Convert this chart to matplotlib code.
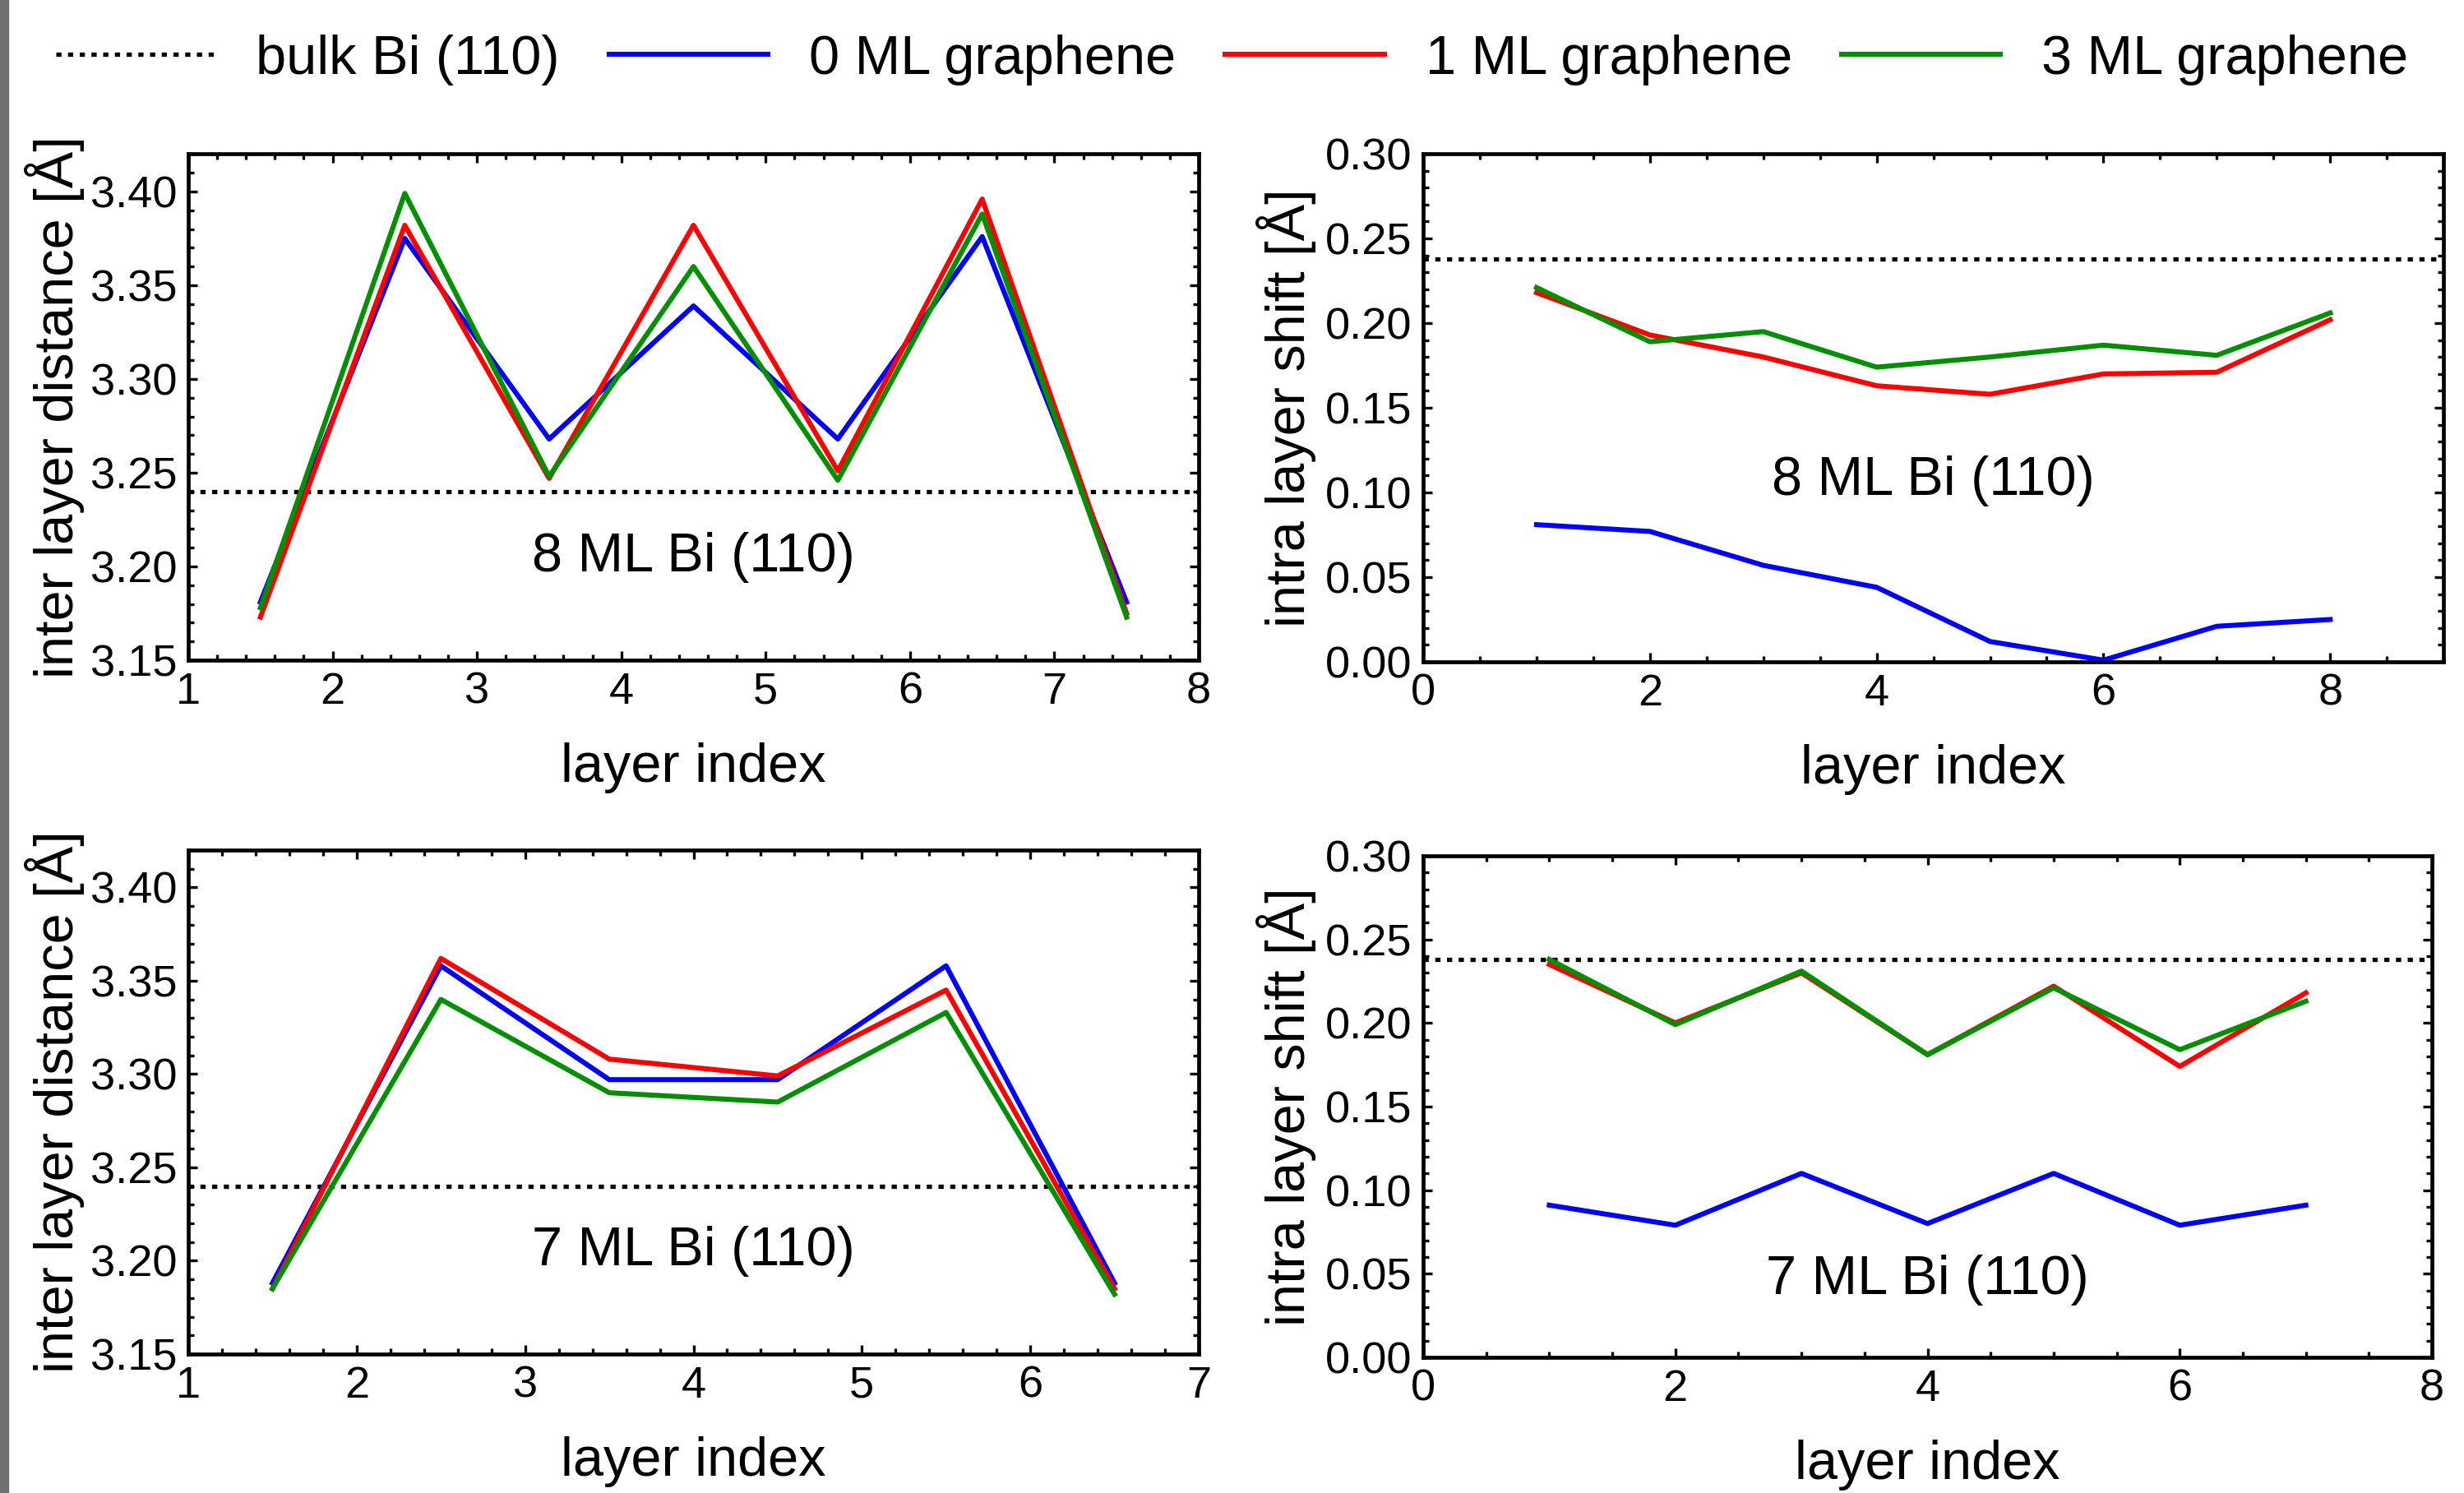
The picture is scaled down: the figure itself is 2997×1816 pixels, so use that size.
import matplotlib
matplotlib.use('Agg')
import matplotlib.pyplot as plt
from matplotlib.ticker import MultipleLocator
from matplotlib.patches import Rectangle

plt.rcParams['font.family'] = ['Liberation Sans', 'DejaVu Sans']

# 8 ML Bi(110): inter layer distance, x at layer midpoints
x_inter8 = [1.5, 2.5, 3.5, 4.5, 5.5, 6.5, 7.5]
inter8_g0 = [3.181, 3.375, 3.268, 3.339, 3.268, 3.376, 3.181]
inter8_g1 = [3.173, 3.382, 3.247, 3.382, 3.251, 3.396, 3.175]
inter8_g3 = [3.178, 3.399, 3.248, 3.360, 3.246, 3.388, 3.173]

# 8 ML Bi(110): intra layer shift
x_intra8 = [1, 2, 3, 4, 5, 6, 7, 8]
intra8_g0 = [0.081, 0.077, 0.057, 0.044, 0.012, 0.001, 0.021, 0.025]
intra8_g1 = [0.218, 0.193, 0.180, 0.163, 0.158, 0.170, 0.171, 0.202]
intra8_g3 = [0.221, 0.189, 0.195, 0.174, 0.180, 0.187, 0.181, 0.206]

# 7 ML Bi(110): inter layer distance
x_inter7 = [1.5, 2.5, 3.5, 4.5, 5.5, 6.5]
inter7_g0 = [3.188, 3.358, 3.297, 3.297, 3.358, 3.188]
inter7_g1 = [3.185, 3.362, 3.308, 3.299, 3.345, 3.185]
inter7_g3 = [3.185, 3.340, 3.290, 3.285, 3.333, 3.182]

# 7 ML Bi(110): intra layer shift
x_intra7 = [1, 2, 3, 4, 5, 6, 7]
intra7_g0 = [0.091, 0.079, 0.110, 0.080, 0.110, 0.079, 0.091]
intra7_g1 = [0.235, 0.200, 0.230, 0.181, 0.222, 0.174, 0.218]
intra7_g3 = [0.238, 0.199, 0.231, 0.181, 0.221, 0.184, 0.213]

bulk_inter = 3.24
bulk_intra = 0.238

labels = ['0 ML graphene', '1 ML graphene', '3 ML graphene']
colors = ['#0000ff', '#ff0000', '#008f00']

fig = plt.figure(figsize=(29.97, 18.16), dpi=100)
fig.patches.append(Rectangle((0, 0), 10 / 2997, 1, transform=fig.transFigure,
                             color='#707070', zorder=0))

ax_tl = fig.add_axes([0.0764, 0.5578, 0.4101, 0.339])
ax_tr = fig.add_axes([0.5776, 0.5567, 0.4141, 0.3403])
ax_bl = fig.add_axes([0.0764, 0.0931, 0.4101, 0.3375])
ax_br = fig.add_axes([0.5776, 0.0909, 0.4094, 0.3359])

LW = 4.4
DOT = (0, (1.2, 1.5))
DOT_LW = 3.8


def style(ax, xlim, ylim, xmaj, xmin, ymaj, ymin, ylabel, ylpad):
    ax.set_xlim(*xlim)
    ax.set_ylim(*ylim)
    ax.xaxis.set_major_locator(MultipleLocator(xmaj))
    ax.xaxis.set_minor_locator(MultipleLocator(xmin))
    ax.yaxis.set_major_locator(MultipleLocator(ymaj))
    ax.yaxis.set_minor_locator(MultipleLocator(ymin))
    ax.yaxis.set_major_formatter(plt.FormatStrFormatter('%.2f'))
    ax.tick_params(which='both', direction='in', top=True, right=True,
                   labelsize=39, width=2.4, pad=10)
    ax.tick_params(which='major', length=8)
    ax.tick_params(which='minor', length=5)
    for s in ax.spines.values():
        s.set_linewidth(3.4)
    ax.set_xlabel('layer index', fontsize=48, labelpad=26)
    ax.set_ylabel(ylabel, fontsize=48, labelpad=ylpad)


def draw(ax, x, series, bulk, text, tx, ty):
    ax.axhline(bulk, color='black', ls=DOT, lw=DOT_LW)
    for y, c in zip(series, colors):
        ax.plot(x, y, color=c, lw=LW)
    ax.text(tx, ty, text, fontsize=48, ha='center', va='center')


draw(ax_tl, x_inter8, [inter8_g0, inter8_g1, inter8_g3], bulk_inter, '8 ML Bi (110)', 4.5, 3.205)
style(ax_tl, (1, 8), (3.15, 3.42), 1, 0.2, 0.05, 0.01, 'inter layer distance [Å]', 5)

draw(ax_tr, x_intra8, [intra8_g0, intra8_g1, intra8_g3], bulk_intra, '8 ML Bi (110)', 4.5, 0.107)
style(ax_tr, (0, 9), (0, 0.30), 2, 0.5, 0.05, 0.01, 'intra layer shift [Å]', 8)

draw(ax_bl, x_inter7, [inter7_g0, inter7_g1, inter7_g3], bulk_inter, '7 ML Bi (110)', 4.0, 3.205)
style(ax_bl, (1, 7), (3.15, 3.42), 1, 0.2, 0.05, 0.01, 'inter layer distance [Å]', 5)

draw(ax_br, x_intra7, [intra7_g0, intra7_g1, intra7_g3], bulk_intra, '7 ML Bi (110)', 4.0, 0.046)
style(ax_br, (0, 8), (0, 0.30), 2, 0.5, 0.05, 0.01, 'intra layer shift [Å]', 8)

handles = [plt.Line2D([], [], color='black', ls=DOT, lw=DOT_LW)]
handles += [plt.Line2D([], [], color=c, lw=LW) for c in colors]
fig.legend(handles, ['bulk Bi (110)'] + labels, loc='center', bbox_to_anchor=(0.5, 0.96),
           ncol=4, frameon=False, fontsize=48, handlelength=2.9, handletextpad=0.75,
           columnspacing=0.9)

fig.savefig('out.png', dpi=100)
